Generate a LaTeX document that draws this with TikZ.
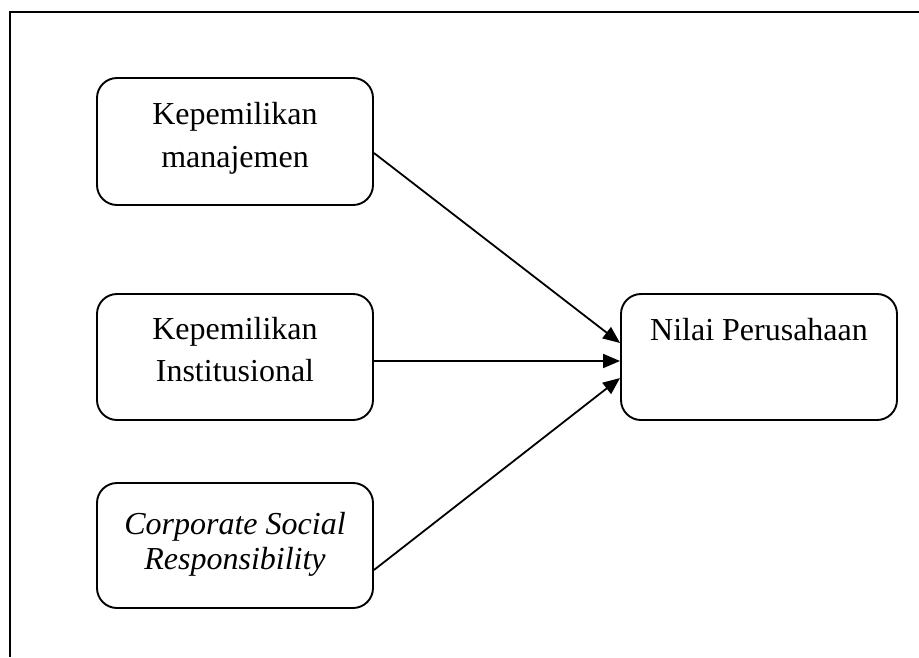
\documentclass[tikz,border=0pt]{standalone}
\usepackage{fontspec}
\setmainfont{Liberation Serif}
\usetikzlibrary{arrows.meta}
\begin{document}
\begin{tikzpicture}[x=1pt,y=-1pt,
  box/.style={draw,line width=1.9pt,rounded corners=20pt},
  lbl/.style={anchor=base,inner sep=0pt,font=\fontsize{32}{40}\selectfont},
  conn/.style={line width=1.8pt,-{Triangle[length=17pt,width=14pt]}},
  frame/.style={line width=2pt}]
\useasboundingbox (0,0) rectangle (919,657);
% open frame
\coordinate (fbl) at (10,657);
\coordinate (ftl) at (10,12);
\coordinate (ftr) at (919,12);
\draw[frame] (fbl) -- (ftl) -- (ftr);
% boxes
\node[box,minimum width=276pt,minimum height=127pt] (b1) at (235,141.5) {};
\node[box,minimum width=276pt,minimum height=126pt] (b2) at (235,357) {};
\node[box,minimum width=276pt,minimum height=125pt] (b3) at (235,545.5) {};
\node[box,minimum width=276pt,minimum height=126pt] (b4) at (759,357) {};
% labels
\node[lbl] (t1a) at (235,124) {Kepemilikan};
\node[lbl] (t1b) at (235,167) {manajemen};
\node[lbl] (t2a) at (235,339) {Kepemilikan};
\node[lbl] (t2b) at (235,381) {Institusional};
\node[lbl] (t3a) at (235,534) {\itshape Corporate Social};
\node[lbl] (t3b) at (235,569) {\itshape Responsibility};
\node[lbl] (t4) at (759,340) {Nilai Perusahaan};
% connectors
\coordinate (s1) at (b1.east |- 0,153);
\coordinate (e1) at (b4.west |- 0,343);
\coordinate (s2) at (b2.east |- 0,361);
\coordinate (e2) at (b4.west |- 0,361);
\coordinate (s3) at (b3.east |- 0,570);
\coordinate (e3) at (b4.west |- 0,378);
\draw[conn] (s1) -- (e1);
\draw[conn] (s2) -- (e2);
\draw[conn] (s3) -- (e3);
\end{tikzpicture}
\end{document}
